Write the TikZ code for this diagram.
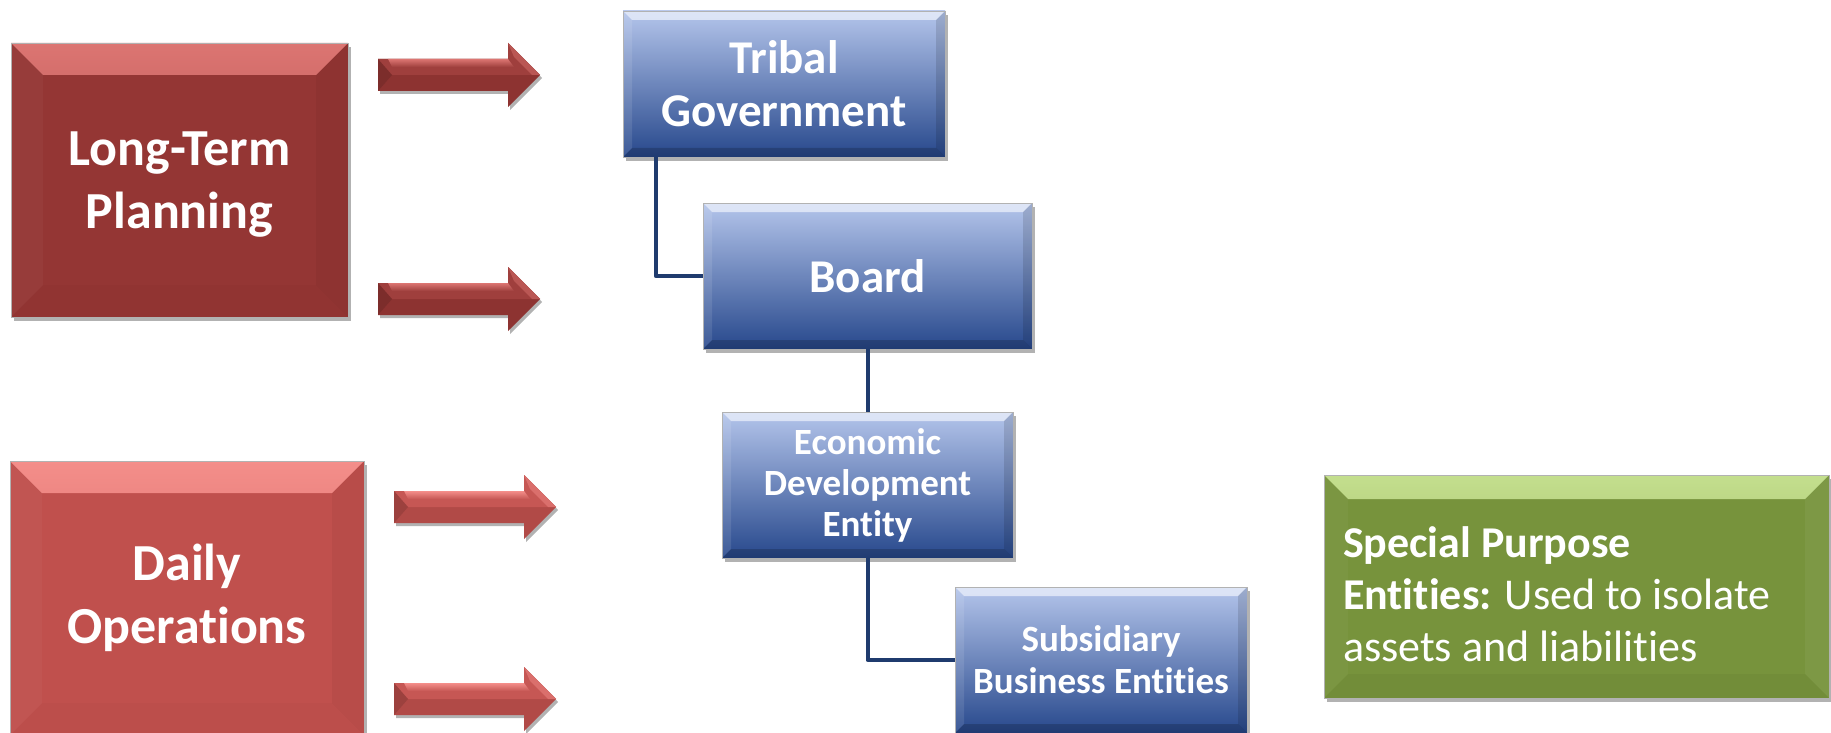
\documentclass[tikz,border=0pt]{standalone}
\usepackage{fontspec}
\setmainfont{Carlito}[Ligatures=NoCommon]
\usetikzlibrary{shadows}
\definecolor{blueTop}{HTML}{B4C5EB}
\definecolor{blueMid}{HTML}{8A9ED3}
\definecolor{blueBot}{HTML}{27488C}
\definecolor{ltpRed}{HTML}{943634}
\definecolor{ltpHi}{HTML}{DC7572}
\definecolor{doRed}{HTML}{C0504D}
\definecolor{doHi}{HTML}{F48E8A}
\definecolor{spGreen}{HTML}{77933C}
\definecolor{spHi}{HTML}{C4DF8E}
\definecolor{navy}{HTML}{1F3B6E}
\tikzset{
  bev/.style n args={5}{path picture={
    \shade[#2] (path picture bounding box.north west) -- (path picture bounding box.north east) -- ([xshift=-#1,yshift=-#1]path picture bounding box.north east) -- ([xshift=#1,yshift=-#1]path picture bounding box.north west) -- cycle;
    \fill[#3] (path picture bounding box.north west) -- ([xshift=#1,yshift=-#1]path picture bounding box.north west) -- ([xshift=#1,yshift=#1]path picture bounding box.south west) -- (path picture bounding box.south west) -- cycle;
    \fill[#4] (path picture bounding box.north east) -- ([xshift=-#1,yshift=-#1]path picture bounding box.north east) -- ([xshift=-#1,yshift=#1]path picture bounding box.south east) -- (path picture bounding box.south east) -- cycle;
    \fill[#5] (path picture bounding box.south west) -- ([xshift=#1,yshift=#1]path picture bounding box.south west) -- ([xshift=-#1,yshift=#1]path picture bounding box.south east) -- (path picture bounding box.south east) -- cycle;
  }},
  boxbase/.style={rectangle, inner sep=0pt, text=white, align=center,
    draw=black!30, line width=0.6pt,
    drop shadow={shadow xshift=3pt, shadow yshift=-4pt, opacity=0.3, fill=black}},
  bluebox/.style={boxbase, top color=blueTop, middle color=blueMid, bottom color=blueBot,
    minimum height=146pt,
    bev={9pt}{top color=white!55!blueTop, bottom color=blueTop}{white, opacity=0.10}{black, opacity=0.12}{black, opacity=0.18}},
  ltpbox/.style={boxbase, fill=ltpRed,
    bev={32pt}{top color=ltpHi, bottom color=ltpRed!90!ltpHi}{white, opacity=0.03}{black, opacity=0.04}{black, opacity=0.02}},
  dobox/.style={boxbase, fill=doRed,
    bev={32pt}{top color=doHi, bottom color=doRed!90!doHi}{white, opacity=0.03}{black, opacity=0.04}{black, opacity=0.02}},
  spbox/.style={boxbase, fill=spGreen,
    bev={24pt}{top color=spHi, bottom color=spGreen!88!spHi}{white, opacity=0.03}{white, opacity=0.05}{black, opacity=0.04}},
  conn/.style={draw=navy, line width=4pt, line join=round},
  arrshadow/.style={drop shadow={shadow xshift=2pt, shadow yshift=-3pt, opacity=0.3, fill=black}}
}
% block arrow: x1, y-centre, x2, light, mid, dark
\newcommand{\blockarrow}[6]{%
  \fill[#6, arrshadow] (#1,#2-16) -- (#3-32,#2-16) -- (#3-32,#2-32) -- (#3,#2) -- (#3-32,#2+32) -- (#3-32,#2+16) -- (#1,#2+16) -- cycle;
  \fill[#5] (#1,#2-16) -- (#3-32,#2-16) -- (#3-32,#2-32) -- (#3,#2) -- (#1,#2) -- cycle;
  \shade[top color=#4, bottom color=#5] (#1+10,#2-16) -- (#3-32,#2-16) -- (#3-26,#2-8) -- (#1+14,#2-8) -- cycle;
  \fill[#4, opacity=0.45] (#3-32,#2-32) -- (#3,#2) -- (#3-8,#2) -- (#3-26,#2-18) -- cycle;
  \fill[#6!88!black] (#1,#2-16) -- (#1+14,#2) -- (#1,#2+16) -- cycle;
}
\begin{document}
\begin{tikzpicture}[x=1pt, y=-1pt]
\useasboundingbox (0,0) rectangle (1831,733);
\fill[white] (0,0) rectangle (1831,733);

% left boxes
\node[ltpbox, minimum width=337pt, minimum height=274pt, text depth=0pt,
  font=\fontsize{52}{63}\selectfont\bfseries] (ltp) at (179.5,180) {Long-Term\\Planning};
\node[dobox, minimum width=354pt, minimum height=274pt,
  font=\fontsize{52}{63}\selectfont\bfseries] (dop) at (187,598) {Daily\\Operations};

% block arrows
\blockarrow{378}{75}{540}{ltpHi}{ltpRed!85!ltpHi}{ltpRed!95!black}
\blockarrow{378}{299}{540}{ltpHi}{ltpRed!85!ltpHi}{ltpRed!95!black}
\blockarrow{394}{507}{556}{doHi}{doRed!88!doHi}{doRed!92!black}
\blockarrow{394}{699}{556}{doHi}{doRed!88!doHi}{doRed!92!black}

% hierarchy
\node[bluebox, minimum width=322pt, font=\fontsize{47}{53}\selectfont\bfseries] (tg) at (784,84) {Tribal\\Government};
\node[bluebox, minimum width=329pt, font=\fontsize{47}{53}\selectfont\bfseries] (bd) at (867.5,276) {Board};
\node[bluebox, minimum width=291pt, font=\fontsize{37}{41}\selectfont\bfseries] (ed) at (867.5,485) {Economic\\Development\\Entity};
\node[bluebox, minimum width=292pt, font=\fontsize{37}{42}\selectfont\bfseries] (sb) at (1101,660) {Subsidiary\\Business Entities};

\draw[conn] ([xshift=33pt]tg.south west) |- (bd.west);
\draw[conn] (bd.south) -- (ed.north);
\draw[conn] (ed.south) |- (sb.west);

% special purpose entities
\node[spbox, minimum height=223pt, text width=467pt, inner xsep=19pt, align=flush left,
  font=\fontsize{44}{52}\selectfont] (spe) at (1576.5,586.5)
  {\rule{0pt}{46pt}\textbf{Special Purpose}\\\textbf{Entities:} Used to isolate\\assets and liabilities};
\end{tikzpicture}
\end{document}
